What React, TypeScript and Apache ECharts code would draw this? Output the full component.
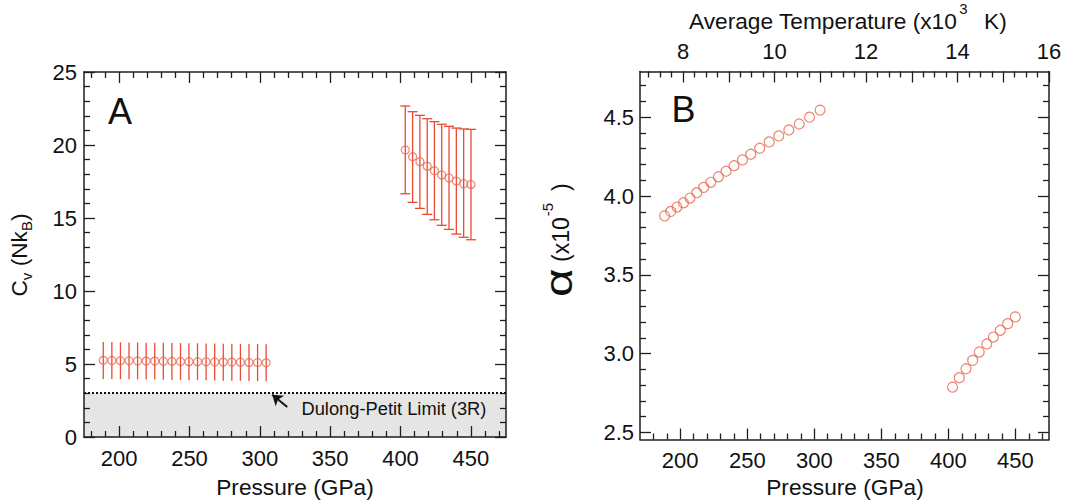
import React, { useEffect, useRef } from 'react';
import * as echarts from 'echarts';

const FONT = '"Liberation Sans", Arial, Helvetica, sans-serif';
const RED_MARK = '#e8664f';
const RED_BAR = '#e84b34';
const INK = '#1e1e1e';

// ---------- Panel A : heat capacity ----------
const lowPressure = [188.7, 194.8, 200.9, 207.0, 213.1, 219.2, 225.3, 231.4, 237.5, 243.6, 249.6, 255.7, 261.8, 267.9, 274.0, 280.1, 286.2, 292.3, 298.4, 304.5];
const lowCv = [5.25, 5.24, 5.23, 5.22, 5.21, 5.20, 5.20, 5.19, 5.18, 5.17, 5.16, 5.16, 5.15, 5.14, 5.13, 5.13, 5.12, 5.11, 5.10, 5.09];
const lowCvTop = [6.51, 6.50, 6.49, 6.48, 6.47, 6.46, 6.46, 6.45, 6.44, 6.43, 6.42, 6.42, 6.41, 6.40, 6.39, 6.39, 6.38, 6.37, 6.36, 6.35];
const lowCvBottom = [3.98, 3.97, 3.96, 3.95, 3.94, 3.93, 3.93, 3.92, 3.91, 3.90, 3.89, 3.89, 3.88, 3.87, 3.86, 3.86, 3.85, 3.84, 3.83, 3.82];

const highPressure = [403.4, 408.6, 413.8, 419.0, 424.1, 429.3, 434.5, 439.7, 444.9, 450.1];
const highCv = [19.66, 19.20, 18.86, 18.55, 18.24, 17.95, 17.74, 17.53, 17.35, 17.30];
const highCvTop = [22.67, 22.28, 22.03, 21.80, 21.60, 21.42, 21.28, 21.16, 21.10, 21.07];
const highCvBottom = [16.66, 16.07, 15.66, 15.25, 14.88, 14.50, 14.22, 13.90, 13.68, 13.51];

const dulongPetit = 3; // 3R in Nk_B
const arrowFrom = [319.5, 2.05];
const arrowTo = [308.8, 2.9];

// ---------- Panel B : thermal expansion ----------
const alphaLowPressure = [188.4, 192.9, 197.6, 202.4, 207.3, 212.3, 217.5, 222.8, 228.5, 234.2, 240.1, 246.4, 252.6, 259.3, 266.3, 273.5, 281.0, 288.7, 296.4, 304.3];
const alphaLow = [3.874, 3.902, 3.930, 3.957, 3.987, 4.021, 4.055, 4.087, 4.122, 4.157, 4.192, 4.229, 4.265, 4.303, 4.343, 4.381, 4.419, 4.457, 4.500, 4.545];
const alphaHighPressure = [403.1, 408.1, 413.1, 418.1, 423.0, 428.6, 433.5, 438.7, 444.2, 449.9];
const alphaHigh = [2.787, 2.847, 2.904, 2.957, 3.010, 3.061, 3.105, 3.148, 3.190, 3.233];

// ---------- ticks ----------
const pressureMajor = [200, 250, 300, 350, 400, 450];
const pressureMinor = [180, 190, 210, 220, 230, 240, 260, 270, 280, 290, 310, 320, 330, 340, 360, 370, 380, 390, 410, 420, 430, 440, 460, 470];
const cvMajor = [0, 5, 10, 15, 20, 25];
const cvMinor = [1, 2, 3, 4, 6, 7, 8, 9, 11, 12, 13, 14, 16, 17, 18, 19, 21, 22, 23, 24];
const alphaMajor = [2.5, 3.0, 3.5, 4.0, 4.5];
const alphaMinor = [2.6, 2.7, 2.8, 2.9, 3.1, 3.2, 3.3, 3.4, 3.6, 3.7, 3.8, 3.9, 4.1, 4.2, 4.3, 4.4, 4.6, 4.7];
const tempLabels = [8, 10, 12, 14, 16];
const tempMajor = [8, 9, 10, 11, 12, 13, 14, 15, 16];
const tempMinor = [7.25, 7.5, 7.75, 8.25, 8.5, 8.75, 9.25, 9.5, 9.75, 10.25, 10.5, 10.75, 11.25, 11.5, 11.75, 12.25, 12.5, 12.75, 13.25, 13.5, 13.75, 14.25, 14.5, 14.75, 15.25, 15.5, 15.75];

const rangeAP = [175, 475];
const rangeACv = [0, 25];
const rangeBP = [170, 475];
const rangeBAlpha = [2.455, 4.79];
const rangeBT = [7.06, 16];

function makeAxis(gridIndex: number, position: string, range: number[], ticks: number[], tickLen: number, showLine: boolean, labels?: number[], margin?: number, formatter?: (v: number) => string) {
  return {
    type: 'value',
    gridIndex,
    position,
    min: range[0],
    max: range[1],
    z: 3,
    silent: true,
    splitLine: { show: false },
    axisLine: { show: showLine, onZero: false, lineStyle: { color: INK, width: 1.5 } },
    axisTick: { show: true, inside: true, length: tickLen, customValues: ticks, lineStyle: { color: INK, width: 1.3 } },
    minorTick: { show: false },
    axisLabel: labels
      ? { show: true, customValues: labels, margin, color: '#111', fontSize: 22, fontFamily: FONT, formatter: formatter || ((v: number) => String(v)) }
      : { show: false },
  };
}

const MAJ = 11;
const MIN = 6;

function errorBarSeries(px: number[], lo: number[], hi: number[], cap: number) {
  return {
    type: 'custom',
    xAxisIndex: 0,
    yAxisIndex: 0,
    z: 4,
    silent: true,
    data: px.map((p, i) => [p, lo[i], hi[i]]),
    encode: { x: 0, y: [1, 2] },
    renderItem: (params: any, api: any) => {
      const x = api.value(0);
      const a = api.coord([x, api.value(1)]);
      const b = api.coord([x, api.value(2)]);
      const style = { stroke: RED_BAR, lineWidth: 1.3 };
      const children: any[] = [{ type: 'line', shape: { x1: a[0], y1: a[1], x2: b[0], y2: b[1] }, style }];
      if (cap > 0) {
        children.push({ type: 'line', shape: { x1: a[0] - cap, y1: a[1], x2: a[0] + cap, y2: a[1] }, style });
        children.push({ type: 'line', shape: { x1: b[0] - cap, y1: b[1], x2: b[0] + cap, y2: b[1] }, style });
      }
      return { type: 'group', children };
    },
  };
}

export default function App() {
  const ref = useRef<HTMLDivElement>(null);

  useEffect(() => {
    if (!ref.current) return;
    const chart = echarts.init(ref.current, undefined, { renderer: 'svg' });

    const ctx = document.createElement('canvas').getContext('2d')!;
    const tw = (t: string, size: number) => {
      ctx.font = `${size}px ${FONT}`;
      return ctx.measureText(t).width;
    };
    const txt = (t: string, x: number, y: number, size: number, align = 'left', extra: any = {}) => ({
      type: 'text',
      x,
      y,
      z: 100,
      silent: true,
      ...extra,
      style: { text: t, font: `${size}px ${FONT}`, fill: '#111', align, verticalAlign: 'middle' },
    });

    // rotated title of panel A : C_v (Nk_B)
    const T = 22.7;
    const S = 15;
    const cvParts = [
      { t: 'C', s: T, dy: 0 },
      { t: 'v', s: S, dy: 7 },
      { t: ' (Nk', s: T, dy: 0 },
      { t: 'B', s: S, dy: 7 },
      { t: ')', s: T, dy: 0 },
    ];
    const cvW = cvParts.reduce((acc, p) => acc + tw(p.t, p.s), 0);
    let cur = -cvW / 2;
    const cvChildren = cvParts.map((p) => {
      const el = txt(p.t, cur, p.dy, p.s);
      cur += tw(p.t, p.s);
      return el;
    });

    // rotated title of panel B : α (x10^-5 )
    const w10 = tw('(x10', 23);
    const alphaChildren = [
      txt('α', 0, -2, 38, 'left', { scaleX: 1.3 }),
      txt('(x10', 35, 0, 23),
      txt('-5', 35 + w10 + 1, -14, S),
      txt(')', 106, 0, 23),
    ];

    // top title of panel B
    const topMain = 'Average Temperature (x10';
    const topX = 689;
    const topMainW = tw(topMain, T);

    const option: any = {
      animation: false,
      backgroundColor: '#ffffff',
      grid: [
        { left: 84, top: 72, width: 422, height: 365, containLabel: false, outerBoundsMode: 'none' },
        { left: 640, top: 71.5, width: 409, height: 368, containLabel: false, outerBoundsMode: 'none' },
      ],
      xAxis: [
        makeAxis(0, 'bottom', rangeAP, pressureMajor, MAJ, true, pressureMajor, 10),
        makeAxis(0, 'bottom', rangeAP, pressureMinor, MIN, false),
        makeAxis(0, 'top', rangeAP, pressureMajor, MAJ, true),
        makeAxis(0, 'top', rangeAP, pressureMinor, MIN, false),
        makeAxis(1, 'bottom', rangeBP, pressureMajor, MAJ, true, pressureMajor, 10),
        makeAxis(1, 'bottom', rangeBP, pressureMinor, MIN, false),
        makeAxis(1, 'top', rangeBT, tempMajor, MAJ, true, tempLabels, 9),
        makeAxis(1, 'top', rangeBT, tempMinor, MIN, false),
      ],
      yAxis: [
        makeAxis(0, 'left', rangeACv, cvMajor, MAJ, true, cvMajor, 7),
        makeAxis(0, 'left', rangeACv, cvMinor, MIN, false),
        makeAxis(0, 'right', rangeACv, cvMajor, MAJ, true),
        makeAxis(0, 'right', rangeACv, cvMinor, MIN, false),
        makeAxis(1, 'left', rangeBAlpha, alphaMajor, MAJ, true, alphaMajor, 6, (v: number) => v.toFixed(1)),
        makeAxis(1, 'left', rangeBAlpha, alphaMinor, MIN, false),
        makeAxis(1, 'right', rangeBAlpha, alphaMajor, MAJ, true),
        makeAxis(1, 'right', rangeBAlpha, alphaMinor, MIN, false),
      ],
      series: [
        {
          type: 'scatter',
          name: 'Cv low',
          xAxisIndex: 0,
          yAxisIndex: 0,
          z: 5,
          symbol: 'circle',
          symbolSize: 8,
          itemStyle: { color: 'rgba(0,0,0,0)', borderColor: RED_MARK, borderWidth: 1.2 },
          data: lowPressure.map((p, i) => [p, lowCv[i]]),
          markArea: {
            silent: true,
            itemStyle: { color: '#e5e5e5' },
            data: [[{ yAxis: 0 }, { yAxis: dulongPetit }]],
          },
          markLine: {
            silent: true,
            symbol: 'none',
            label: { show: false },
            lineStyle: { color: '#111', type: 'dotted', width: 2 },
            data: [{ yAxis: dulongPetit }],
          },
        },
        errorBarSeries(lowPressure, lowCvBottom, lowCvTop, 0),
        errorBarSeries(highPressure, highCvBottom, highCvTop, 5),
        {
          type: 'scatter',
          name: 'Cv high',
          xAxisIndex: 0,
          yAxisIndex: 0,
          z: 5,
          symbol: 'circle',
          symbolSize: 8,
          itemStyle: { color: 'rgba(0,0,0,0)', borderColor: RED_MARK, borderWidth: 1.2 },
          data: highPressure.map((p, i) => [p, highCv[i]]),
          markLine: {
            silent: true,
            symbol: ['none', 'arrow'],
            symbolSize: 10,
            label: { show: false },
            lineStyle: { color: '#111', type: 'solid', width: 2 },
            data: [[{ coord: arrowFrom }, { coord: arrowTo }]],
          },
        },
        {
          type: 'scatter',
          name: 'alpha low',
          xAxisIndex: 4,
          yAxisIndex: 4,
          z: 5,
          symbol: 'circle',
          symbolSize: 10,
          itemStyle: { color: 'rgba(0,0,0,0)', borderColor: RED_MARK, borderWidth: 1.2 },
          data: alphaLowPressure.map((p, i) => [p, alphaLow[i]]),
        },
        {
          type: 'scatter',
          name: 'alpha high',
          xAxisIndex: 4,
          yAxisIndex: 4,
          z: 5,
          symbol: 'circle',
          symbolSize: 10,
          itemStyle: { color: 'rgba(0,0,0,0)', borderColor: RED_MARK, borderWidth: 1.2 },
          data: alphaHighPressure.map((p, i) => [p, alphaHigh[i]]),
        },
      ],
      graphic: {
        elements: [
          txt('A', 120, 111, 36, 'center'),
          txt('B', 683.5, 109.5, 36, 'center'),
          txt('Dulong-Petit Limit (3R)', 301.5, 408.5, 18.3),
          txt('Pressure (GPa)', 295, 486.5, T, 'center'),
          txt('Pressure (GPa)', 845, 486.5, T, 'center'),
          txt(topMain, topX, 20.5, T),
          txt('3', topX + topMainW + 2, 8, S),
          txt('K)', 984, 20.5, T),
          { type: 'group', x: 19, y: 255, z: 100, rotation: Math.PI / 2, silent: true, children: cvChildren },
          { type: 'group', x: 561, y: 297, z: 100, rotation: Math.PI / 2, silent: true, children: alphaChildren },
        ],
      },
    };

    chart.setOption(option);
    return () => chart.dispose();
  }, []);

  return (
    <div
      ref={ref}
      style={{ position: 'fixed', left: 0, top: 0, width: 1065, height: 503, background: '#fff' }}
    />
  );
}
